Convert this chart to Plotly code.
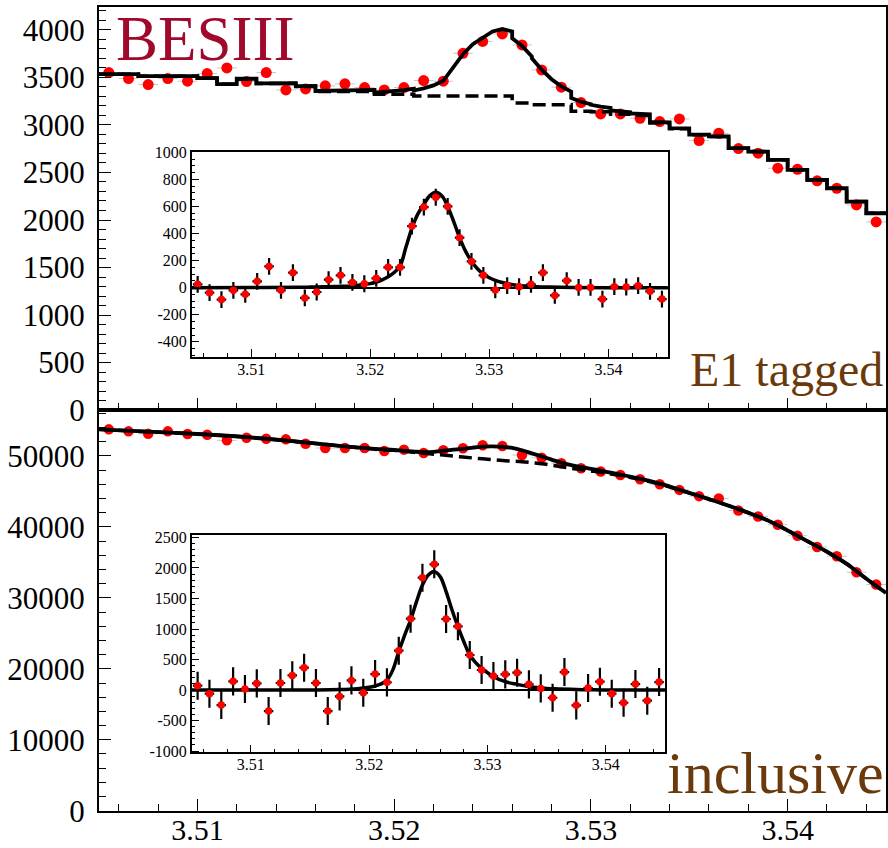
import numpy as np
import plotly.graph_objects as go

# ---------------- data ----------------
# 40 bins of 1 MeV from 3.505 to 3.545 GeV
bin_edges = np.round(3.505 + 0.001 * np.arange(41), 4)
bin_centers = np.round(3.5055 + 0.001 * np.arange(40), 4)

# E1 tagged (top panel): data and step-shaped background
data_top = [3552, 3489, 3426, 3489, 3461, 3541, 3601, 3457, 3552, 3369,
            3380, 3412, 3433, 3394, 3369, 3394, 3468, 3461, 3755, 3880,
            3959, 3843, 3580, 3398, 3236, 3117, 3117, 3071, 3036, 3064,
            2836, 2913, 2752, 2703, 2545, 2534, 2412, 2334, 2159, 1980]
bg_top = [3535, 3535, 3513, 3513, 3513, 3492, 3429, 3485, 3436, 3436,
          3405, 3352, 3352, 3352, 3324, 3324, 3305, 3305, 3305, 3305,
          3305, 3232, 3212, 3212, 3145, 3140, 3113, 3100, 3020, 2960,
          2896, 2878, 2755, 2720, 2633, 2527, 2422, 2334, 2194, 2071]

# E1 tagged, background subtracted (top inset)
ins_top = [25, -37, -88, -20, -49, 47, 157, -20, 111, -76,
           -32, 59, 91, 39, 29, 69, 150, 150, 455, 595,
           668, 600, 369, 194, 91, -17, 15, 7, 25, 111,
           -57, 52, 2, 2, -84, 7, 5, 15, -27, -84]
ins_top_err = 62

# fitted signal shape, top
sig_top_x = [3.505, 3.510, 3.514, 3.515, 3.516, 3.517, 3.5175, 3.518, 3.5185, 3.519,
             3.5195, 3.520, 3.5205, 3.521, 3.5215, 3.522, 3.5225, 3.523, 3.5235, 3.524,
             3.5245, 3.525, 3.5255, 3.526, 3.5265, 3.527, 3.5275, 3.528, 3.5285, 3.529,
             3.5295, 3.530, 3.5305, 3.531, 3.5315, 3.532, 3.5325, 3.533, 3.534, 3.535,
             3.537, 3.540, 3.545]
sig_top_y = [0, 1, 3, 4, 6, 8, 10, 11, 13, 17,
             22, 30, 42, 58, 80, 112, 160, 300, 440, 545,
             615, 680, 705, 680, 600, 490, 370, 270, 195, 140,
             100, 73, 54, 40, 30, 22, 16, 12, 7, 4,
             1, 0, 0]

# inclusive (bottom panel)
data_bot = [53750, 53470, 53130, 53470, 53090, 52990, 52200, 52570, 52430, 52340,
            51730, 51120, 51120, 51120, 50700, 50890, 50420, 50800, 51100, 51500,
            51400, 50140, 49760, 48970, 48270, 47800, 47330, 46730, 46020, 45220,
            44340, 44000, 42320, 41480, 40310, 38760, 37180, 35860, 33610, 31880]

ins_bot = [71, -60, -246, 142, 16, 109, -344, 115, 240, 366,
           115, -344, -104, 158, -44, 262, 126, 645, 1169, 1841,
           2060, 1164, 1044, 574, 328, 229, 257, 284, 93, 27,
           -126, 295, -251, 33, 137, -60, -208, 98, -175, 131]
ins_bot_err = 230

fit_bot_x = [3.505, 3.5075, 3.510, 3.5125, 3.515, 3.5175, 3.519, 3.520, 3.5205, 3.521,
             3.5215, 3.522, 3.5225, 3.523, 3.5235, 3.524, 3.5245, 3.525, 3.5255, 3.526,
             3.5265, 3.527, 3.5275, 3.528, 3.5285, 3.529, 3.5295, 3.530, 3.5305, 3.5315,
             3.5325, 3.5335, 3.535, 3.536, 3.5375, 3.539, 3.540, 3.541, 3.542, 3.543,
             3.544, 3.545]
bg_bot = [53750, 53420, 53100, 52650, 52040, 51350, 50980, 50800, 50660, 50520,
          50380, 50250, 50120, 49980, 49850, 49720, 49600, 49480, 49360, 49280,
          49200, 49050, 48900, 48700, 48480, 48250, 48100, 47900, 47700, 47250,
          46700, 46050, 44780, 43900, 42500, 40900, 39500, 38000, 36500, 34800,
          32700, 30700]
sig_bot = [0, 0, 0, 0, 2, 8, 22, 45, 66, 100,
           160, 330, 628, 900, 1147, 1448, 1721, 1885, 1940, 1858,
           1612, 1311, 1038, 792, 574, 448, 355, 284, 218, 137,
           93, 55, 27, 18, 8, 3, 2, 1, 0, 0,
           0, 0]

x_ticks = [3.51, 3.52, 3.53, 3.54]
top_ticks = [0, 500, 1000, 1500, 2000, 2500, 3000, 3500, 4000]
bot_ticks = [0, 10000, 20000, 30000, 40000, 50000]
ins_top_ticks = [-400, -200, 0, 200, 400, 600, 800, 1000]
ins_bot_ticks = [-1000, -500, 0, 500, 1000, 1500, 2000, 2500]

# ---------------- figure ----------------
W, H = 888, 848
FONT = "Liberation Serif, Times New Roman, serif"
RED = "#ff0000"


def px(x):
    return x / W


def py(y):
    return (H - y) / H


fig = go.Figure()

# --- top panel: data, background (dashed), total fit (solid)
fig.add_trace(go.Scatter(
    x=bin_centers, y=data_top, mode="markers", xaxis="x", yaxis="y",
    marker=dict(color=RED, size=11),
    error_x=dict(type="constant", value=0.0005, color="#c8c8c8", thickness=1, width=0),
    showlegend=False))

bg_top_x = list(bin_edges)
bg_top_y = list(bg_top) + [bg_top[-1]]
fig.add_trace(go.Scatter(
    x=bg_top_x, y=bg_top_y, mode="lines", line_shape="hv", xaxis="x", yaxis="y",
    line=dict(color="black", width=3.5, dash="13px,6px"), showlegend=False))

tot_x, tot_y = [], []
for i in range(40):
    for xx in (bin_edges[i], bin_centers[i], bin_edges[i + 1]):
        tot_x.append(xx)
        tot_y.append(bg_top[i] + float(np.interp(xx, sig_top_x, sig_top_y)))
fig.add_trace(go.Scatter(
    x=tot_x, y=tot_y, mode="lines", xaxis="x", yaxis="y",
    line=dict(color="black", width=3.8), showlegend=False))

# --- bottom panel
fig.add_trace(go.Scatter(
    x=bin_centers, y=data_bot, mode="markers", xaxis="x2", yaxis="y2",
    marker=dict(color=RED, size=10.5),
    error_x=dict(type="constant", value=0.0005, color="#c8c8c8", thickness=1, width=0),
    showlegend=False))
fig.add_trace(go.Scatter(
    x=fit_bot_x, y=bg_bot, mode="lines", line_shape="spline", xaxis="x2", yaxis="y2",
    line=dict(color="black", width=3.5, dash="13px,6px"), showlegend=False))
fig.add_trace(go.Scatter(
    x=fit_bot_x, y=[b + s for b, s in zip(bg_bot, sig_bot)], mode="lines",
    line_shape="spline", xaxis="x2", yaxis="y2",
    line=dict(color="black", width=3.8), showlegend=False))

# --- top inset
fig.add_trace(go.Scatter(
    x=sig_top_x, y=sig_top_y, mode="lines", line_shape="spline", xaxis="x3", yaxis="y3",
    line=dict(color="black", width=3.5), showlegend=False))
fig.add_trace(go.Scatter(
    x=bin_centers, y=ins_top, mode="markers", xaxis="x3", yaxis="y3",
    marker=dict(color=RED, size=7.5),
    error_y=dict(type="constant", value=ins_top_err, color="black", thickness=2.2, width=0),
    error_x=dict(type="constant", value=0.0004, color="black", thickness=2.2, width=0),
    showlegend=False))

# --- bottom inset
fig.add_trace(go.Scatter(
    x=fit_bot_x, y=sig_bot, mode="lines", line_shape="spline", xaxis="x4", yaxis="y4",
    line=dict(color="black", width=3.5), showlegend=False))
fig.add_trace(go.Scatter(
    x=bin_centers, y=ins_bot, mode="markers", xaxis="x4", yaxis="y4",
    marker=dict(color=RED, size=7.5),
    error_y=dict(type="constant", value=ins_bot_err, color="black", thickness=2.2, width=0),
    error_x=dict(type="constant", value=0.0004, color="black", thickness=2.2, width=0),
    showlegend=False))

main_x_dom = [px(99), px(886)]
top_dom = [py(410), py(7)]
bot_dom = [py(810.7), py(410)]
ins_top_x = [px(191.7), px(667.9)]
ins_top_y = [py(356.7), py(152.3)]
ins_bot_x = [px(191.7), px(665)]
ins_bot_y = [py(752.3), py(535)]

common = dict(showline=True, linecolor="black", mirror=True, showgrid=False,
              zeroline=False, ticks="inside", tickcolor="black", automargin=False)

main_font = dict(family=FONT, size=31, color="black")
xlab_font = dict(family=FONT, size=30, color="black")
ins_font = dict(family=FONT, size=16, color="black")

fig.update_layout(
    width=W, height=H,
    margin=dict(l=0, r=0, t=0, b=0, pad=0, autoexpand=False),
    paper_bgcolor="white", plot_bgcolor="white",
    showlegend=False,
    xaxis=dict(domain=main_x_dom, range=[3.505, 3.545], anchor="y",
               linewidth=2, ticklen=12, tickwidth=1.2,
               tickmode="array", tickvals=x_ticks, showticklabels=False,
               minor=dict(tick0=3.50, dtick=0.002, ticklen=7, ticks="inside",
                          tickcolor="black", tickwidth=1), **common),
    yaxis=dict(domain=top_dom, range=[0, 4242], anchor="x",
               linewidth=2, ticklen=12, tickwidth=1.2,
               tickmode="array", tickvals=top_ticks, ticktext=[str(v) for v in top_ticks],
               tickfont=main_font, ticklabelstandoff=6,
               minor=dict(tick0=0, dtick=100, ticklen=7, ticks="inside",
                          tickcolor="black", tickwidth=1), **common),
    xaxis2=dict(domain=main_x_dom, range=[3.505, 3.545], anchor="y2",
                linewidth=2, ticklen=12, tickwidth=1.2,
                tickmode="array", tickvals=x_ticks, ticktext=["%.2f" % v for v in x_ticks],
                tickfont=xlab_font, ticklabelstandoff=-9,
                minor=dict(tick0=3.50, dtick=0.002, ticklen=7, ticks="inside",
                           tickcolor="black", tickwidth=1), **common),
    yaxis2=dict(domain=bot_dom, range=[0, 56480], anchor="x2",
                linewidth=2, ticklen=12, tickwidth=1.2,
                tickmode="array", tickvals=bot_ticks, ticktext=[str(v) for v in bot_ticks],
                tickfont=main_font, ticklabelstandoff=6,
                minor=dict(tick0=0, dtick=2000, ticklen=7, ticks="inside",
                           tickcolor="black", tickwidth=1), **common),
    xaxis3=dict(domain=ins_top_x, range=[3.505, 3.545], anchor="y3",
                linewidth=1.5, ticklen=8, tickwidth=1,
                tickmode="array", tickvals=x_ticks, ticktext=["%.2f" % v for v in x_ticks],
                tickfont=ins_font, ticklabelstandoff=-3,
                minor=dict(tick0=3.50, dtick=0.002, ticklen=4, ticks="inside",
                           tickcolor="black", tickwidth=1), **common),
    yaxis3=dict(domain=ins_top_y, range=[-510, 1000], anchor="x3",
                linewidth=1.5, ticklen=8, tickwidth=1,
                tickmode="array", tickvals=ins_top_ticks, ticktext=[str(v) for v in ins_top_ticks],
                tickfont=ins_font, ticklabelstandoff=0,
                minor=dict(tick0=0, dtick=50, ticklen=4, ticks="inside",
                           tickcolor="black", tickwidth=1), **common),
    xaxis4=dict(domain=ins_bot_x, range=[3.505, 3.545], anchor="y4",
                linewidth=1.5, ticklen=8, tickwidth=1,
                tickmode="array", tickvals=x_ticks, ticktext=["%.2f" % v for v in x_ticks],
                tickfont=ins_font, ticklabelstandoff=-3,
                minor=dict(tick0=3.50, dtick=0.002, ticklen=4, ticks="inside",
                           tickcolor="black", tickwidth=1), **common),
    yaxis4=dict(domain=ins_bot_y, range=[-1020, 2540], anchor="x4",
                linewidth=1.5, ticklen=8, tickwidth=1,
                tickmode="array", tickvals=ins_bot_ticks, ticktext=[str(v) for v in ins_bot_ticks],
                tickfont=ins_font, ticklabelstandoff=0,
                minor=dict(tick0=0, dtick=100, ticklen=4, ticks="inside",
                           tickcolor="black", tickwidth=1), **common),
)

# zero lines inside the insets
fig.update_layout(yaxis3_zeroline=True, yaxis3_zerolinecolor="black", yaxis3_zerolinewidth=1.5,
                  yaxis4_zeroline=True, yaxis4_zerolinecolor="black", yaxis4_zerolinewidth=1.5)

fig.add_annotation(text="BESIII", xref="paper", yref="paper", x=px(114), y=py(39),
                   xanchor="left", yanchor="middle", showarrow=False,
                   font=dict(family=FONT, size=63, color="#a0092c"))
fig.add_annotation(text="E1 tagged", xref="paper", yref="paper", x=px(885), y=py(369),
                   xanchor="right", yanchor="middle", showarrow=False,
                   font=dict(family=FONT, size=48, color="#6b3a0c"))
fig.add_annotation(text="inclusive", xref="paper", yref="paper", x=px(886), y=py(773),
                   xanchor="right", yanchor="middle", showarrow=False,
                   font=dict(family=FONT, size=60, color="#6b3a0c"))

fig.write_html(
    "out.html",
    config={"displayModeBar": False},
    post_script="document.body.style.margin='0';document.body.style.overflow='hidden';",
)
